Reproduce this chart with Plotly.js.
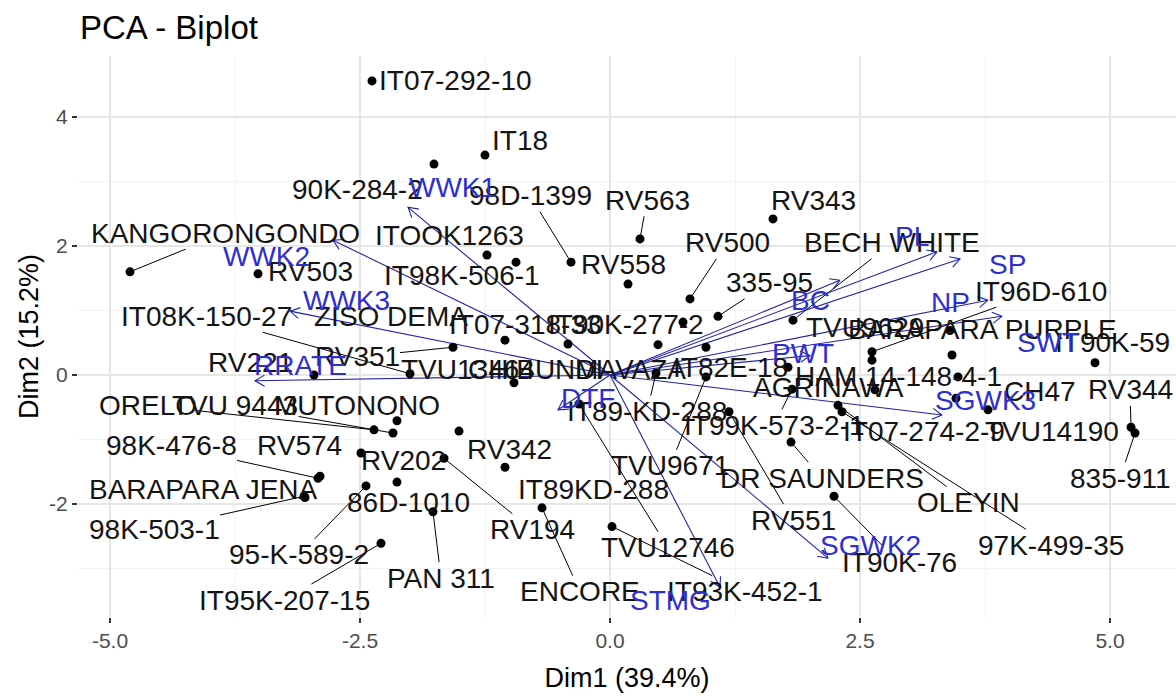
<!DOCTYPE html>
<html>
<head>
<meta charset="utf-8">
<script src="https://cdn.plot.ly/plotly-3.0.1.min.js"></script>
<style>
  html, body { margin: 0; padding: 0; background: #ffffff; }
  #chart { width: 1176px; height: 696px; }
</style>
</head>
<body>
<div id="chart"></div>
<script>
// ---- Individuals (genotype scores on the first two components) ----
const genotypes = [
  "IT07-292-10", "IT18", "90K-284-2", "98D-1399", "RV563", "RV343",
  "KANGORONGONDO", "ITOOK1263", "IT98K-506-1", "RV500", "BECH WHITE", "RV503",
  "RV558", "335-95", "IT96D-610", "TVU9629", "BARAPARA PURPLE", "IT90K-59",
  "IT08K-150-27", "ZISO DEMA", "IT07-318-33", "IT90K-277-2", "RV351", "RV221",
  "TVU13464", "CHIBUNDI", "MAVAZA", "IT82E-18", "IT89-KD-288", "TVU9671",
  "AGRINAWA", "IT99K-573-2-1", "HAM 14-148-4-1", "IT07-274-2-9", "CH47", "TVU14190",
  "RV344", "835-911", "OLEYIN", "97K-499-35", "DR SAUNDERS", "RV551",
  "IT90K-76", "TVU12746", "IT93K-452-1", "ENCORE", "RV342", "IT89KD-288",
  "ORELO", "TVU 9443", "MUTONONO", "RV202", "RV194", "RV574",
  "98K-476-8", "BARAPARA JENA", "98K-503-1", "95-K-589-2", "86D-1010", "PAN 311",
  "IT95K-207-15"
];
const dim1 = [
  -2.38, -1.25, -1.76, -0.39, 0.30, 1.63,
  -4.80, -1.23, -0.94, 0.80, 1.83, -3.52,
  0.18, 1.08, 2.62, 2.62, 3.42, 4.85,
  -2.00, -1.05, -0.42, 0.73, -1.57, -2.96,
  -0.96, 0.48, 0.96, 1.78, 0.46, 0.96,
  2.65, 1.82, 3.48, 3.46, 3.78, 3.40,
  5.21, 5.25, 2.28, 2.32, 1.81, 1.19,
  2.24, -0.31, 0.02, -0.68, -1.05, -1.51,
  -2.36, -2.17, -2.13, -2.49, -1.66, -2.90,
  -2.92, -3.05, -3.06, -2.44, -2.13, -1.77,
  -2.29
];
const dim2 = [
  4.56, 3.41, 3.27, 1.75, 2.11, 2.42,
  1.60, 1.86, 1.75, 1.18, 0.85, 1.57,
  1.41, 0.91, 0.36, 0.23, 0.31, 0.19,
  0.02, 0.54, 0.48, 0.82, 0.43, 0.00,
  -0.12, 0.47, 0.43, 0.12, 0.03, -0.03,
  -0.23, -0.22, -0.03, -0.36, -0.54, 0.69,
  -0.81, -0.90, -0.47, -0.57, -1.04, -0.57,
  -1.88, -0.45, -2.35, -2.06, -1.43, -0.87,
  -0.85, -0.90, -0.71, -1.21, -1.29, -1.57,
  -1.60, -1.90, -1.88, -1.72, -1.66, -2.12,
  -2.61
];

// ---- Variables (loadings, scaled to the score space) ----
const variables = ["WWK1", "WWK2", "WWK3", "RRATE", "DTF", "STMG", "SGWK2",
                   "SGWK3", "SWT", "NP", "SP", "PL", "BC", "PWT"];
const varDim1 = [-2.02, -2.77, -3.20, -3.55, -0.52, 1.10, 2.18,
                  3.32, 3.92, 3.78, 3.50, 3.27, 2.30, 2.00];
const varDim2 = [2.60, 2.09, 0.99, -0.09, -0.54, -3.29, -2.84,
                 -0.62, 0.91, 1.16, 1.80, 1.91, 1.47, 0.30];

// ---- Axis ticks ----
const xTicks = [-5, -2.5, 0, 2.5, 5];
const xTickText = ["-5.0", "-2.5", "0.0", "2.5", "5.0"];
const yTicks = [-2, 0, 2, 4];
const yTickText = ["-2", "0", "2", "4"];

// ---- Repelled label placement (plot units) ----
const labelX = [
  -1.55, -0.90, -2.53, -0.80, 0.37, 2.03,
  -3.85, -1.61, -1.48, 1.17, 2.82, -3.00,
  0.13, 1.59, 4.31, 2.55, 3.72, 5.02,
  -4.04, -2.19, -0.85, 0.16, -2.53, -3.60,
  -1.42, -0.75, 0.20, 1.20, 0.37, 0.60,
  2.18, 1.64, 2.88, 3.14, 4.30, 4.42,
  5.20, 5.10, 3.58, 4.41, 2.12, 1.83,
  2.89, 0.58, 1.35, -0.30, -1.01, -0.17,
  -4.62, -3.75, -2.53, -2.07, -0.78, -3.11,
  -4.39, -4.07, -4.56, -3.11, -2.02, -1.69,
  -3.26
];
const labelY = [
  4.57, 3.64, 2.87, 2.78, 2.71, 2.71,
  2.20, 2.16, 1.55, 2.05, 2.05, 1.60,
  1.71, 1.43, 1.30, 0.73, 0.70, 0.50,
  0.91, 0.91, 0.78, 0.78, 0.28, 0.20,
  0.08, 0.08, 0.08, 0.11, -0.57, -1.41,
  -0.19, -0.78, -0.02, -0.88, -0.26, -0.88,
  -0.23, -1.60, -1.98, -2.64, -1.60, -2.25,
  -2.91, -2.68, -3.36, -3.36, -1.16, -1.78,
  -0.47, -0.47, -0.47, -1.32, -2.40, -1.10,
  -1.10, -1.78, -2.40, -2.79, -1.97, -3.15,
  -3.49
];
const leader = [
  0, 0, 0, 1, 1, 0,
  1, 0, 0, 1, 1, 0,
  0, 1, 1, 0, 0, 0,
  1, 0, 0, 0, 1, 0,
  0, 0, 0, 0, 1, 1,
  0, 1, 0, 0, 0, 0,
  1, 1, 1, 1, 1, 1,
  1, 1, 1, 1, 0, 0,
  1, 1, 0, 0, 1, 0,
  1, 0, 1, 1, 0, 1,
  1
];
const varLabelX = [-1.58, -3.44, -2.64, -3.10, -0.22, 0.60, 2.60,
                    3.75, 4.38, 3.40, 3.97, 3.02, 2.00, 1.93];
const varLabelY = [2.91, 1.83, 1.16, 0.14, -0.36, -3.49, -2.64,
                   -0.39, 0.50, 1.12, 1.71, 2.14, 1.16, 0.34];

// ---- Geometry of the panel ----
const W = 1176, H = 696;
const M = { l: 78, r: 0, t: 56, b: 79 };
const X_RANGE = [-5.32, 5.66];
const Y_RANGE = [-3.752, 4.946];
const pxPerX = (W - M.l - M.r) / (X_RANGE[1] - X_RANGE[0]);
const pxPerY = (H - M.t - M.b) / (Y_RANGE[1] - Y_RANGE[0]);

const FONT = "Liberation Sans, Arial, sans-serif";
const TEXT_COL = "#141414";
const VAR_TEXT = "#2F2FCF";
const VAR_LINE = "#2222A8";

// Arrow shafts with open V heads (heads sized in screen pixels)
const shaftX = [], shaftY = [];
const HEAD = 11, ANG = Math.PI / 6;
for (let i = 0; i < variables.length; i++) {
  const x1 = varDim1[i], y1 = varDim2[i];
  shaftX.push(0, x1, null);
  shaftY.push(0, y1, null);
  const th = Math.atan2(y1 * pxPerY, x1 * pxPerX);
  const pts = [-1, 1].map(s => {
    const a = th + Math.PI + s * ANG;
    return [x1 + HEAD * Math.cos(a) / pxPerX, y1 + HEAD * Math.sin(a) / pxPerY];
  });
  shaftX.push(pts[0][0], x1, pts[1][0], null);
  shaftY.push(pts[0][1], y1, pts[1][1], null);
}

const traces = [
  {
    type: "scatter", mode: "lines", x: shaftX, y: shaftY,
    line: { color: VAR_LINE, width: 1.1 }, hoverinfo: "skip", showlegend: false
  },
  {
    type: "scatter", mode: "markers", x: dim1, y: dim2, text: genotypes,
    marker: { color: "#000000", size: 9 }, hoverinfo: "text", showlegend: false
  }
];

const labelFont = { family: FONT, size: 28, color: TEXT_COL };
const annotations = genotypes.map((g, i) => leader[i] ? {
  xref: "x", yref: "y", axref: "x", ayref: "y",
  x: dim1[i], y: dim2[i], ax: labelX[i], ay: labelY[i],
  text: g, showarrow: true, arrowhead: 0, arrowwidth: 1, arrowcolor: "#000",
  standoff: 4, font: labelFont, borderpad: 0
} : {
  xref: "x", yref: "y", x: labelX[i], y: labelY[i],
  text: g, showarrow: false, font: labelFont, borderpad: 0
});
variables.forEach((v, i) => annotations.push({
  xref: "x", yref: "y", x: varLabelX[i], y: varLabelY[i],
  text: v, showarrow: false, borderpad: 0,
  font: { family: FONT, size: 28, color: VAR_TEXT }
}));

const gridCol = "#E6E6E6";
const layout = {
  width: W, height: H,
  margin: M,
  paper_bgcolor: "#ffffff", plot_bgcolor: "#ffffff",
  font: { family: FONT },
  title: {
    text: "PCA - Biplot", xref: "container", yref: "container",
    x: 80 / W, xanchor: "left", y: 1 - 27 / H, yanchor: "middle",
    font: { family: FONT, size: 33, color: "#000000" }
  },
  xaxis: {
    range: X_RANGE, tickvals: xTicks, ticktext: xTickText, tickmode: "array",
    showgrid: true, gridcolor: gridCol, gridwidth: 1.3,
    minor: { dtick: 1.25, tick0: 0, showgrid: true, gridcolor: "#F0F0F0", gridwidth: 0.8 },
    zeroline: false, showline: false,
    ticks: "outside", ticklen: 5, tickwidth: 1.2, tickcolor: "#333333",
    tickfont: { family: FONT, size: 21, color: "#4D4D4D" },
    title: { text: "Dim1 (39.4%)", standoff: 16, font: { family: FONT, size: 27, color: "#000000" } }
  },
  yaxis: {
    range: Y_RANGE, tickvals: yTicks, ticktext: yTickText, tickmode: "array",
    showgrid: true, gridcolor: gridCol, gridwidth: 1.3,
    minor: { dtick: 1, tick0: 0, showgrid: true, gridcolor: "#F0F0F0", gridwidth: 0.8 },
    zeroline: false, showline: false,
    ticks: "outside", ticklen: 5, tickwidth: 1.2, tickcolor: "#333333",
    tickfont: { family: FONT, size: 21, color: "#4D4D4D" },
    title: { text: "Dim2 (15.2%)", standoff: 2, font: { family: FONT, size: 27, color: "#000000" } }
  },
  shapes: [
    { type: "line", xref: "x", yref: "paper", x0: 0, x1: 0, y0: 0, y1: 1, layer: "between",
      line: { color: "#000000", width: 1.3, dash: "7px,5px" } },
    { type: "line", xref: "paper", yref: "y", x0: 0, x1: 1, y0: 0, y1: 0, layer: "between",
      line: { color: "#000000", width: 1.3, dash: "7px,5px" } }
  ],
  annotations: annotations,
  showlegend: false
};

Plotly.newPlot("chart", traces, layout, { displayModeBar: false, staticPlot: true });
</script>
</body>
</html>
